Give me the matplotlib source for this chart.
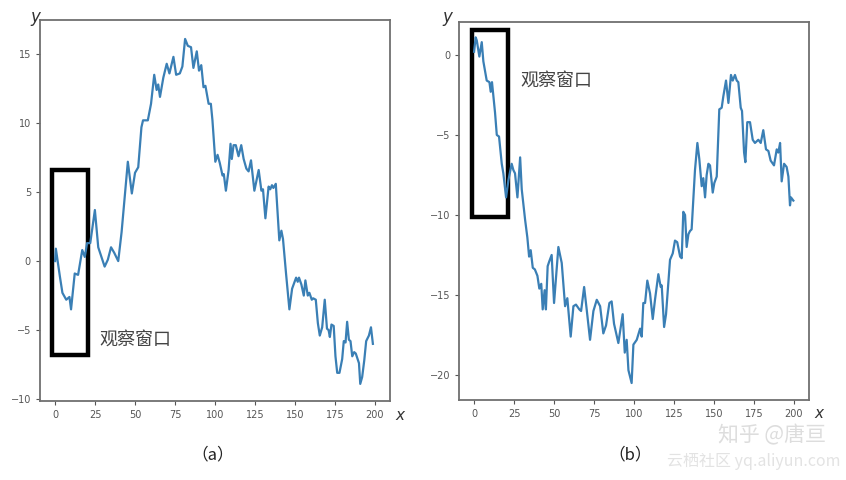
import matplotlib
matplotlib.use("Agg")
import matplotlib.pyplot as plt
from matplotlib.patches import Rectangle

plt.rcParams['font.family'] = ['Noto Sans CJK SC', 'DejaVu Sans']

# ---- data (a) ----
xa = [0, 0.5, 3, 4.6, 7, 9, 10, 12.3, 14.4, 17, 18.6, 20, 22, 24.9, 27, 31, 33, 35, 37, 39.5,
      41.6, 45.5, 48, 50, 52, 54, 55, 58, 60, 62, 63.5, 64.5, 65.6, 67.7, 69.8, 71.5, 74, 75.7,
      78, 79.6, 81.3, 83, 85, 86.5, 88.6, 90, 91.4, 92.8, 94, 96, 97.4, 98.4, 100.2, 101.6, 103,
      104.7, 105.5, 106.8, 108.5, 109.7, 110.5, 111.6, 113, 114.7, 116.4, 117.9, 119.6, 121,
      122.5, 124.6, 127.3, 129, 130, 131.5, 133.5, 134.5, 135.6, 136.5, 138, 140.2, 141.5, 142.5,
      144.4, 146.5, 148.2, 150.7, 151.7, 152.5, 154, 155.5, 156.5, 158, 159, 160.5, 161.4, 163,
      164.3, 165.5, 167, 168.6, 170, 171, 171.8, 172.8, 174.2, 175.3, 176.4, 177.8, 179.5, 180.5,
      181.6, 182.6, 183.7, 184.7, 185.8, 187, 188, 190, 190.8, 192, 193.3, 194.5, 196.2, 197.5,
      198.7]
ya = [0.0, 0.9, -1.1, -2.3, -2.8, -2.6, -3.5, -0.9, -1.0, 0.8, 0.3, 1.3, 1.3, 3.7, 1.0, -0.4,
      0.1, 1.0, 0.6, 0.0, 2.1, 7.2, 4.9, 6.4, 6.8, 9.7, 10.2, 10.2, 11.4, 13.5, 12.4, 12.8, 11.9,
      13.3, 14.3, 13.6, 14.8, 13.5, 13.6, 14.1, 16.1, 15.6, 15.5, 14.0, 15.2, 13.8, 14.2, 12.6,
      12.7, 11.4, 11.4, 10.2, 7.2, 7.7, 7.1, 6.2, 6.3, 5.1, 6.6, 8.5, 7.4, 8.4, 8.4, 7.6, 8.4,
      7.4, 6.7, 6.5, 7.3, 5.1, 6.6, 5.1, 5.2, 3.1, 5.4, 5.2, 5.5, 5.3, 5.6, 1.5, 2.2, 1.6, -0.9,
      -3.5, -2.0, -1.2, -1.5, -1.2, -1.7, -2.5, -1.4, -2.5, -2.3, -2.8, -2.7, -2.8, -4.5, -5.4,
      -4.8, -2.8, -4.9, -5.0, -5.5, -4.6, -4.7, -6.9, -8.1, -8.1, -7.1, -5.8, -5.9, -4.4, -5.7,
      -5.8, -6.9, -6.6, -6.7, -7.4, -8.9, -8.4, -7.2, -5.8, -5.4, -4.8, -6.0]

# ---- data (b) ----
xb = [0, 1, 1.7, 3.3, 4.8, 5.8, 7.9, 9.6, 10.4, 11.2, 13.1, 14.2, 15.6, 17.3, 18.3, 20, 21.5,
      23.5, 24.6, 25.6, 27.1, 28.8, 29.8, 31.9, 33.3, 34.4, 35.4, 36.7, 38, 39.6, 40.8, 42, 42.9,
      44.1, 44.9, 46, 47, 48.5, 50, 51.3, 52.7, 54.8, 56.9, 58.3, 60.4, 62.1, 63.7, 65.8, 66.9,
      68.8, 70.4, 72.5, 74.6, 76.7, 78.8, 80.8, 82.5, 84.6, 86, 87.5, 90.2, 92.9, 94.2, 95.4,
      96.5, 98.5, 99.6, 101.7, 103.8, 104.8, 105.8, 106.9, 108.3, 110, 111.7, 113.1, 115.2,
      116.7, 117.3, 118.8, 120, 122.5, 124.2, 125.6, 127, 128.8, 129.8, 130.8, 131.9, 132.9,
      134, 135, 136, 137.1, 138.1, 139.6, 140.8, 142.3, 143.3, 144.4, 145.4, 146.5, 147.5,
      149.2, 150.2, 151.7, 153.3, 154.8, 155.8, 157.5, 159, 160.6, 161.7, 163.1, 164.2, 165.2,
      166.7, 167.5, 168.8, 169.6, 170.8, 172.5, 174.2, 175.6, 177.7, 179.2, 180.8, 182.5, 184,
      185.4, 187.5, 189.2, 190.2, 191.3, 192.3, 193.8, 195.4, 196.5, 197.5, 198.1, 199.6]
yb = [0.2, 1.1, 0.9, -0.1, 0.8, -0.4, -1.6, -1.7, -2.3, -1.7, -3.6, -5.0, -5.1, -6.8, -7.4,
      -8.9, -7.8, -6.8, -7.2, -7.4, -8.9, -6.4, -8.4, -10.3, -11.4, -12.6, -12.2, -13.3, -13.4,
      -13.8, -14.6, -14.3, -15.9, -14.7, -15.9, -13.2, -12.9, -12.5, -15.5, -13.8, -12.0, -13.0,
      -15.7, -15.2, -17.6, -15.7, -15.6, -15.9, -16.0, -14.5, -15.9, -17.8, -16.0, -15.3,
      -15.7, -17.4, -16.9, -15.5, -15.4, -16.8, -18.0, -16.2, -18.6, -17.8, -19.7, -20.5,
      -18.1, -17.8, -17.1, -17.6, -15.5, -15.5, -14.1, -14.9, -16.5, -15.3, -13.7, -14.5,
      -14.4, -17.0, -16.2, -12.8, -12.4, -11.6, -11.7, -12.6, -12.7, -9.8, -10.0, -12.0, -11.2,
      -11.0, -10.9, -8.9, -7.2, -5.5, -6.5, -8.2, -7.7, -8.9, -7.5, -6.8, -6.9, -8.6, -8.0,
      -7.6, -3.4, -3.3, -2.6, -1.6, -3.0, -1.25, -1.6, -1.25, -1.6, -1.7, -3.3, -3.5, -6.1,
      -6.7, -4.2, -4.2, -5.3, -5.5, -5.3, -5.5, -4.7, -5.9, -6.0, -6.6, -6.9, -5.9, -6.1, -5.5,
      -7.9, -6.8, -7.0, -7.6, -9.4, -8.9, -9.1]

xticks = [0, 25, 50, 75, 100, 125, 150, 175, 200]
yticks_a = [-10, -5, 0, 5, 10, 15]
yticks_b = [-20, -15, -10, -5, 0]
window_label = "观察窗口"

fig = plt.figure(figsize=(8.46, 4.8), dpi=100)
line_color = '#3a7fb5'
spine_color = '#707070'

def style(ax):
    for s in ax.spines.values():
        s.set_color(spine_color)
        s.set_linewidth(1.3)
    ax.tick_params(colors='#555555', labelsize=7, length=3, width=0.8)
    for lab in ax.get_xticklabels() + ax.get_yticklabels():
        lab.set_family('DejaVu Sans')

axa = fig.add_axes([0.0473, 0.1646, 0.4137, 0.7934])
axa.plot(xa, ya, color=line_color, lw=1.6)
axa.set_xlim(-9.4, 209.4)
axa.set_ylim(-10.14, 17.46)
axa.set_xticks(xticks)
axa.set_yticks(yticks_a)
style(axa)
axa.add_patch(Rectangle((-2, -6.8), 22.6, 13.4, fill=False, ec='black', lw=3.2, clip_on=False))
axa.text(28, -5.7, window_label, fontsize=13, color='#444444', va='center', ha='left')

axb = fig.add_axes([0.5426, 0.1667, 0.4137, 0.7875])
axb.plot(xb, yb, color=line_color, lw=1.6)
axb.set_xlim(-9.4, 209.4)
axb.set_ylim(-21.56, 2.06)
axb.set_xticks(xticks)
axb.set_yticks(yticks_b)
style(axb)
axb.add_patch(Rectangle((-1.25, -10.1), 22.5, 11.66, fill=False, ec='black', lw=3.2, clip_on=False))
axb.text(28.75, -1.6, window_label, fontsize=13, color='#444444', va='center', ha='left')

# axis letters
fig.text(35/846, 1 - 17/480, 'y', fontsize=12, style='italic', color='#333333', ha='center', va='center', family='DejaVu Sans')
fig.text(400/846, 1 - 415/480, 'x', fontsize=11, style='italic', color='#333333', ha='center', va='center', family='DejaVu Sans')
fig.text(447/846, 1 - 17/480, 'y', fontsize=12, style='italic', color='#333333', ha='center', va='center', family='DejaVu Sans')
fig.text(819/846, 1 - 413/480, 'x', fontsize=11, style='italic', color='#333333', ha='center', va='center', family='DejaVu Sans')

# captions
fig.text(213/846, 1 - 455/480, '（a）', fontsize=12, color='#222222', ha='center', va='center')
fig.text(630/846, 1 - 455/480, '（b）', fontsize=12, color='#222222', ha='center', va='center')

# watermarks
fig.text(772/846, 1 - 435/480, '知乎 @唐亘', fontsize=15, color='#dddddd', ha='center', va='center')
fig.text(840/846, 1 - 461/480, '云栖社区 yq.aliyun.com', fontsize=11.5, color='#e3e3e3', ha='right', va='center')

fig.savefig('out.png', dpi=100, facecolor='white')
